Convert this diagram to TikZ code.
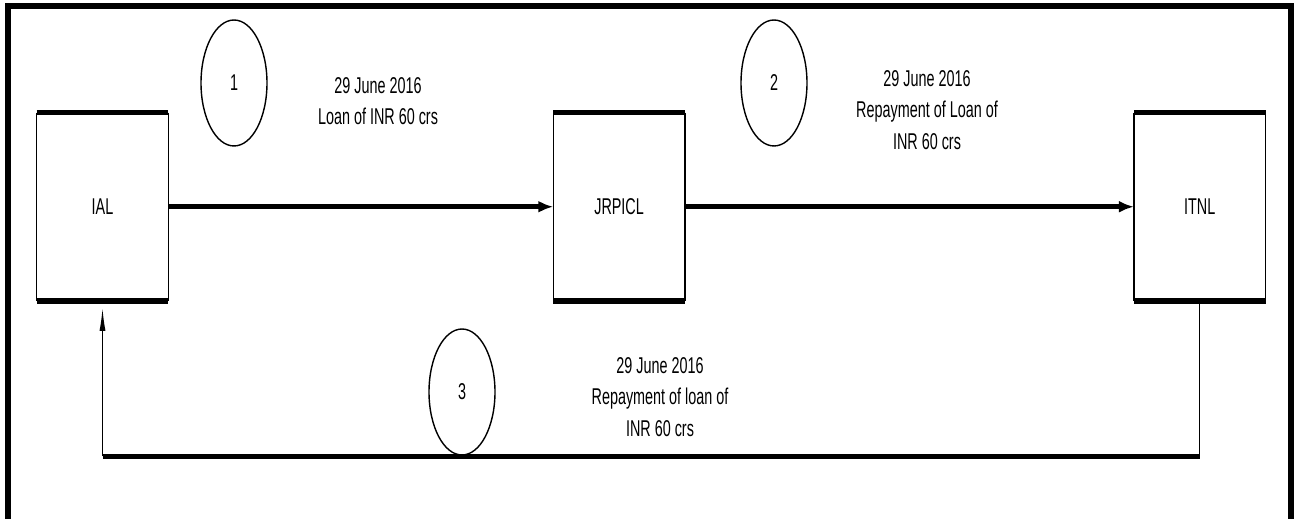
\documentclass[tikz,border=0pt]{standalone}
\usepackage{fontspec}
\newfontfamily\condfont[FakeStretch=0.63]{Liberation Sans}
\usetikzlibrary{arrows.meta,positioning,shapes.geometric}

\begin{document}
\begin{tikzpicture}[
    x=0.02cm, y=-0.02cm,
    txt/.style={font=\condfont\fontsize{13}{18}\selectfont},
    entity/.style={rectangle, minimum width=2.62cm, minimum height=3.75cm, inner sep=0, txt},
    stepno/.style={ellipse, draw, line width=0.8pt, minimum width=1.32cm, minimum height=2.52cm, inner sep=0, txt},
    note/.style={align=center, inner sep=0, txt},
    bar/.style={line width=0.11cm},
    side/.style={line width=0.8pt},
    flow/.style={-{Latex[length=0.3cm,width=0.24cm]}, line width=0.1cm},
    back/.style={-{Latex[length=0.46cm,width=0.12cm]}, line width=0.8pt, shorten >=0.14cm}
]
    \clip (0,0) rectangle (1296,519);
    % outer frame
    \draw[line width=0.12cm] (8,540) -- (8,6.5) -- (1290.5,6.5) -- (1290.5,540);

    \node[entity] (ial) at (102.5,206.75) {IAL};
    \node[entity, right=7.7cm of ial] (jrpicl) {JRPICL};
    \node[entity, right=8.98cm of jrpicl] (itnl) {ITNL};

    \foreach \n in {ial,jrpicl,itnl} {
        \draw[side] (\n.north west) -- (\n.south west) (\n.north east) -- (\n.south east);
        \draw[bar] (\n.north west) -- (\n.north east);
        \draw[bar] (\n.south west) -- (\n.south east);
    }

    \node[stepno] (s1) at (234,83) {1};
    \node[stepno] (s2) at (774,83) {2};
    \node[stepno] (s3) at (462,392) {3};

    \node[note] (t1) at (378,101) {29 June 2016\\Loan of INR 60 crs};
    \node[note] (t2) at (927,110) {29 June 2016\\Repayment of Loan of\\INR 60 crs};
    \node[note] (t3) at (660,397) {29 June 2016\\Repayment of loan of\\INR 60 crs};

    \draw[flow] (ial) -- (jrpicl);
    \draw[flow] (jrpicl) -- (itnl);

    % return leg
    \coordinate (br) at (itnl.south |- 0,456.5);
    \coordinate (bl) at (ial.south |- 0,456.5);
    \draw[side] (itnl.south) -- (br);
    \draw[bar] (br) -- (bl);
    \draw[back] (bl) -- (ial.south);
\end{tikzpicture}
\end{document}
